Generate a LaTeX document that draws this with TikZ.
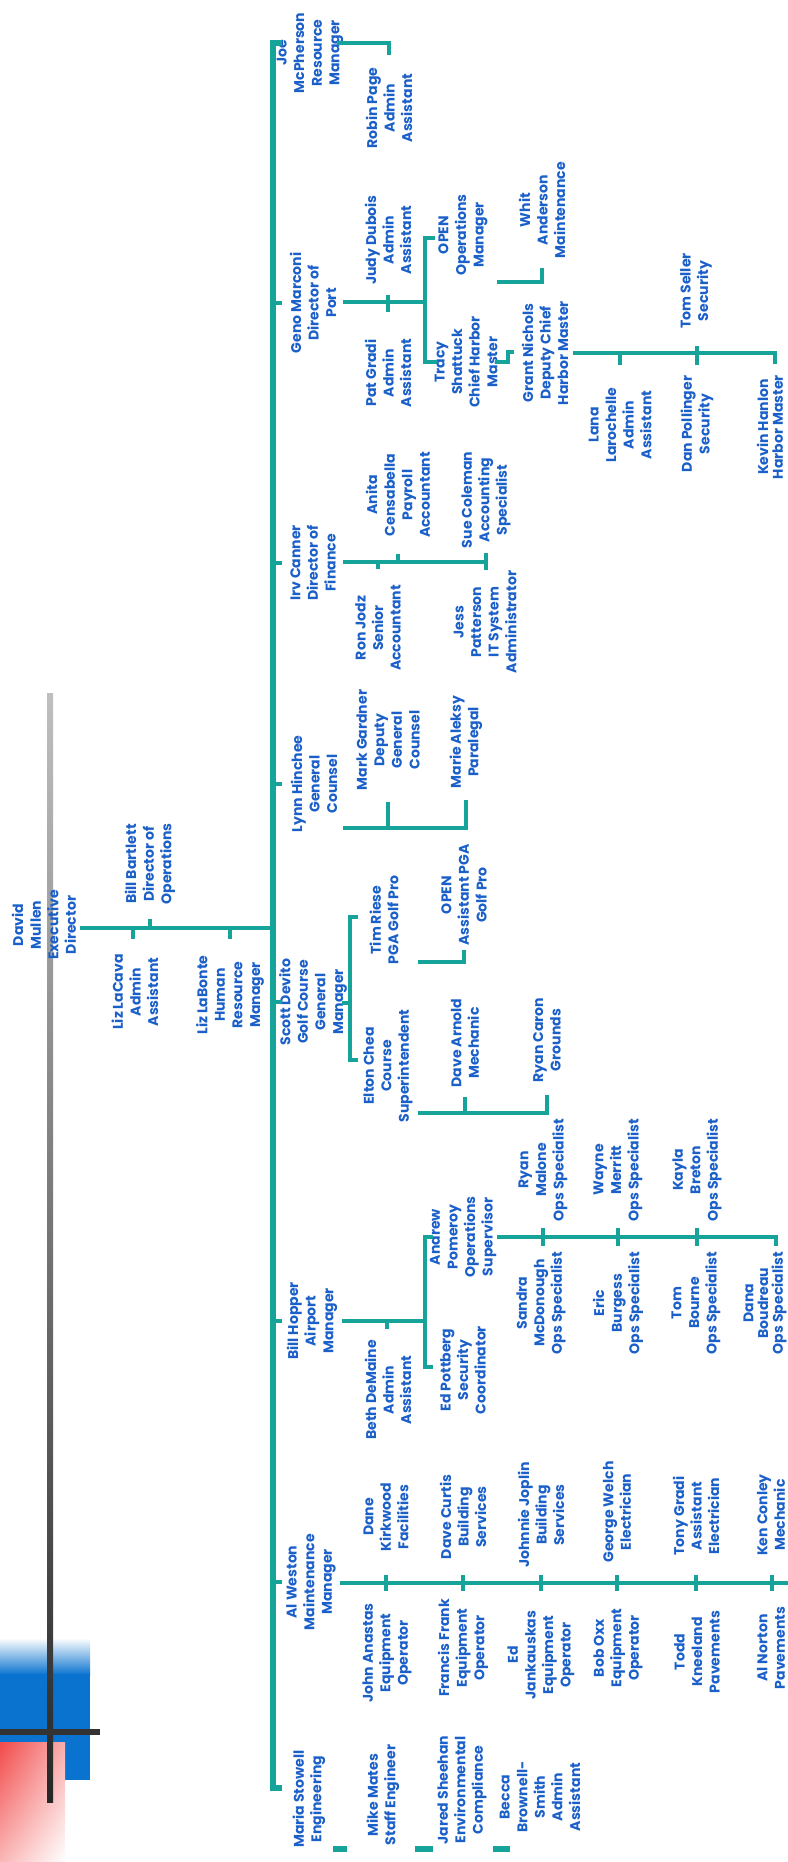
\documentclass[tikz,border=0pt]{standalone}
\usepackage{fontspec}
\setmainfont{Poppins}
\usepackage{tikz}
\usetikzlibrary{calc,shadings}
\definecolor{nameblue}{HTML}{1B5FC9}
\definecolor{linkteal}{HTML}{16A49A}
\definecolor{logoblue}{HTML}{0A72CF}
\definecolor{logored}{HTML}{F24A4A}

\begin{document}
\begin{tikzpicture}[x=0.025cm,y=-0.025cm,
    person/.style={rotate=90,align=center,text=nameblue,inner sep=0pt,
                   font=\bfseries\fontsize{10}{12.5}\selectfont},
    tight/.style={person,font=\bfseries\fontsize{10}{10.5}\selectfont},
    link/.style={draw=linkteal,line width=3.3pt},
    spine/.style={link,line width=3.8pt}
  ]
    \useasboundingbox (0,0) rectangle (788,1862);

    % logo
    \shade[top color=white,bottom color=logoblue] (0,1638) rectangle (90,1675);
    \fill[logoblue] (0,1674) rectangle (90,1742);
    \fill[logoblue] (65,1741) rectangle (90,1780);
    \shade[upper left=logored,upper right=logored!45!white,
           lower left=logored!40!white,lower right=white] (0,1742) rectangle (65,1862);
    \shade[top color=black!25,bottom color=black!85] (47,693) rectangle (53,1802);
    \fill[black!80] (0,1729) rectangle (100,1735);

    % top level
    \node[person] (exec) at (44,925) {David\\Mullen\\Executive\\Director};
    \node[person] (bartlett) at (150,864) {Bill Bartlett\\Director of\\Operations};
    \node[person] (lacava) at (135,992) {Liz LaCava\\Admin\\Assistant};
    \node[person] (labonte) at (230,995) {Liz LaBonte\\Human\\Resource\\Manager};

    % resources
    \node[person] (mcpherson) at (310,53) {Joe\\McPherson\\Resource\\Manager};
    \node[person] (page) at (389,108) {Robin Page\\Admin\\Assistant};

    % port
    \node[person] (marconi) at (313,303) {Geno Marconi\\Director of\\Port};
    \node[person] (dubois) at (388,240) {Judy Dubois\\Admin\\Assistant};
    \node[person] (gradi) at (388,373) {Pat Gradi\\Admin\\Assistant};
    \node[person] (openops) at (463,235) {OPEN\\Operations\\Manager};
    \node[person] (anderson) at (542,210) {Whit\\Anderson\\Maintenance};
    \node[person] (shattuck) at (466,362) {Tracy\\Shattuck\\Chief Harbor\\Master};
    \node[person] (nichols) at (545,353) {Grant Nichols\\Deputy Chief\\Harbor Master};
    \node[person] (larochelle) at (620,425) {Lana\\Larochelle\\Admin\\Assistant};
    \node[person] (pollinger) at (697,424) {Dan Pollinger\\Security};
    \node[person] (seller) at (696,291) {Tom Seller\\Security};
    \node[tight] (hanlon) at (770,427) {Kevin Hanlon\\Harbor Master};

    % finance
    \node[person] (canner) at (313,563) {Irv Canner\\Director of\\Finance};
    \node[person] (jodz) at (378,628) {Ron Jodz\\Senior\\Accountant};
    \node[person] (censabella) at (398,495) {Anita\\Censabella\\Payroll\\Accountant};
    \node[person] (coleman) at (486,500) {Sue Coleman\\Accounting\\Specialist};
    \node[person] (patterson) at (485,622) {Jess\\Patterson\\IT System\\Administrator};

    % counsel
    \node[person] (hinchee) at (314,784) {Lynn Hinchee\\General\\Counsel};
    \node[person] (gardner) at (388,740) {Mark Gardner\\Deputy\\General\\Counsel};
    \node[person] (aleksy) at (466,742) {Marie Aleksy\\Paralegal};

    % golf course
    \node[person] (devito) at (313,1002) {Scott Devito\\Golf Course\\General\\Manager};
    \node[person] (riese) at (384,920) {Tim Riese\\PGA Golf Pro};
    \node[person] (openpga) at (464,895) {OPEN\\Assistant PGA\\Golf Pro};
    \node[person] (chea) at (388,1066) {Elton Chea\\Course\\Superintendent};
    \node[person] (arnold) at (465,1043) {Dave Arnold\\Mechanic};
    \node[person] (caron) at (547,1040) {Ryan Caron\\Grounds};

    % airport
    \node[person] (hopper) at (312,1321) {Bill Hopper\\Airport\\Manager};
    \node[person] (demaine) at (388,1390) {Beth DeMaine\\Admin\\Assistant};
    \node[person] (pottberg) at (463,1370) {Ed Pottberg\\Security\\Coordinator};
    \node[person] (pomeroy) at (463,1237) {Andrew\\Pomeroy\\Operations\\Supervisor};
    \node[person] (malone) at (543,1170) {Ryan\\Malone\\Ops Specialist};
    \node[person] (mcdonough) at (541,1303) {Sandra\\McDonough\\Ops Specialist};
    \node[person] (merritt) at (618,1170) {Wayne\\Merritt\\Ops Specialist};
    \node[person] (burgess) at (618,1303) {Eric\\Burgess\\Ops Specialist};
    \node[person] (breton) at (697,1170) {Kayla\\Breton\\Ops Specialist};
    \node[person] (bourne) at (696,1303) {Tom\\Bourne\\Ops Specialist};
    \node[tight] (boudreau) at (765,1303) {Dana\\Boudreau\\Ops Specialist};

    % maintenance
    \node[person] (weston) at (311,1582) {Al Weston\\Maintenance\\Manager};
    \node[person] (kirkwood) at (386,1517) {Dane\\Kirkwood\\Facilities};
    \node[person] (anastas) at (387,1653) {John Anastas\\Equipment\\Operator};
    \node[person] (curtis) at (463,1517) {Dave Curtis\\Building\\Services};
    \node[person] (frank) at (463,1648) {Francis Frank\\Equipment\\Operator};
    \node[person] (joplin) at (541,1515) {Johnnie Joplin\\Building\\Services};
    \node[person] (jankauskas) at (541,1655) {Ed\\Jankauskas\\Equipment\\Operator};
    \node[person] (welch) at (617,1512) {George Welch\\Electrician};
    \node[person] (oxx) at (618,1648) {Bob Oxx\\Equipment\\Operator};
    \node[person] (tgradi) at (696,1516) {Tony Gradi\\Assistant\\Electrician};
    \node[person] (kneeland) at (697,1652) {Todd\\Kneeland\\Pavements};
    \node[person] (conley) at (771,1515) {Ken Conley\\Mechanic};
    \node[person] (norton) at (771,1648) {Al Norton\\Pavements};

    % engineering
    \node[person] (stowell) at (309,1799) {Maria Stowell\\Engineering};
    \node[person] (mates) at (383,1795) {Mike Mates\\Staff Engineer};
    \node[person] (sheehan) at (462,1790) {Jared Sheehan\\Environmental\\Compliance};
    \node[person] (brownell) at (540,1797) {Becca\\Brownell-\\Smith\\Admin\\Assistant};

    % spine and stubs
    \coordinate (spine-top) at (273,43);
    \coordinate (spine-bot) at (273,1788);
    \draw[spine] (282,43) -- (spine-top) -- (spine-bot) -- (282,1788);
    \foreach \m in {marconi,canner,hinchee,devito,hopper,weston}
      \draw[link] (spine-top |- \m) -- ++(9,0);

    % executive
    \coordinate (exec-bus) at (80,928);
    \draw[link] (exec-bus) -- (spine-top |- exec-bus);
    \draw[link] (lacava |- exec-bus) ++(-2,0) -- ++(0,11);
    \draw[link] (bartlett |- exec-bus) -- ++(0,-9);
    \draw[link] (labonte |- exec-bus) -- ++(0,11);

    % resources
    \coordinate (res-bus) at (337,43);
    \draw[link] (res-bus) -- (page |- res-bus) -- ++(0,12);

    % port
    \coordinate (port-bus) at (343,302);
    \coordinate (port-fork) at (425,302);
    \draw[link] (port-bus) -- (port-fork);
    \draw[link] (dubois |- port-bus) ++(0,-7) -- ++(0,17);
    \draw[link] (port-fork |- openops) ++(10,3) -- ++(-10,0) -- (port-fork |- shattuck) -- ++(12,0);
    \coordinate (ops-link) at (497,282);
    \draw[link] (ops-link) -- (anderson |- ops-link) -- ++(0,-14);
    \coordinate (harbor-step) at (495,362);
    \draw[link] (harbor-step) -- ++(13,0) -- ++(0,-10) -- ++(6,0);
    \coordinate (harbor-bus) at (573,353);
    \draw[link] (harbor-bus) -- (775,353) -- ++(0,11);
    \draw[link] (larochelle |- harbor-bus) -- ++(0,12);
    \draw[link] (pollinger |- harbor-bus) ++(0,-7) -- ++(0,19);

    % finance
    \coordinate (fin-bus) at (343,562);
    \draw[link] (fin-bus) -- (coleman |- fin-bus);
    \draw[link] (jodz |- fin-bus) -- ++(0,7);
    \draw[link] (censabella |- fin-bus) -- ++(0,-8);
    \draw[link] (coleman |- fin-bus) ++(0,-9) -- ++(0,17);

    % counsel
    \coordinate (law-bus) at (343,828);
    \draw[link] (law-bus) -- (aleksy |- law-bus) -- ++(0,-28);
    \draw[link] (gardner |- law-bus) -- ++(0,-26);

    % golf course
    \coordinate (golf-fork) at (350,1003);
    \draw[link] (golf-fork) ++(-8,0) -- (golf-fork);
    \draw[link] (golf-fork |- riese) ++(8,-3) -- ++(-8,0) -- ($(golf-fork |- chea)+(0,-6)$) -- ++(8,0);
    \coordinate (pga-link) at (418,962);
    \draw[link] (pga-link) -- (openpga |- pga-link) -- ++(0,-12);
    \coordinate (course-bus) at (418,1113);
    \draw[link] (course-bus) -- (caron |- course-bus) -- ++(0,-18);
    \draw[link] (arnold |- course-bus) -- ++(0,-16);

    % airport
    \coordinate (air-fork) at (425,1321);
    \draw[link] (air-fork) ++(-83,0) -- (air-fork);
    \draw[link] (demaine |- air-fork) ++(-1,0) -- ++(0,8);
    \draw[link] (air-fork |- pomeroy) ++(8,0) -- ++(-8,0) -- ($(air-fork |- pottberg)+(0,-3)$) -- ++(8,0);
    \coordinate (ops-bus) at (497,1237);
    \draw[link] (ops-bus) -- (776,1237) -- ++(0,9);
    \foreach \c in {malone,merritt,breton}
      \draw[link] (\c |- ops-bus) ++(0,-9) -- ++(0,18);

    % maintenance
    \coordinate (maint-bus) at (340,1583);
    \draw[link] (maint-bus) -- ++(460,0);
    \foreach \c in {kirkwood,curtis,joplin,welch,tgradi}
      \draw[link] (\c |- maint-bus) ++(0,-8) -- ++(0,16);
    \draw[link] (772,1575) -- (772,1591);

    % engineering
    \foreach \a/\b in {333/347,415/433,493/510}
      \draw[link,line width=4pt] (\a,1849) -- (\b,1849);
  \end{tikzpicture}
\end{document}
